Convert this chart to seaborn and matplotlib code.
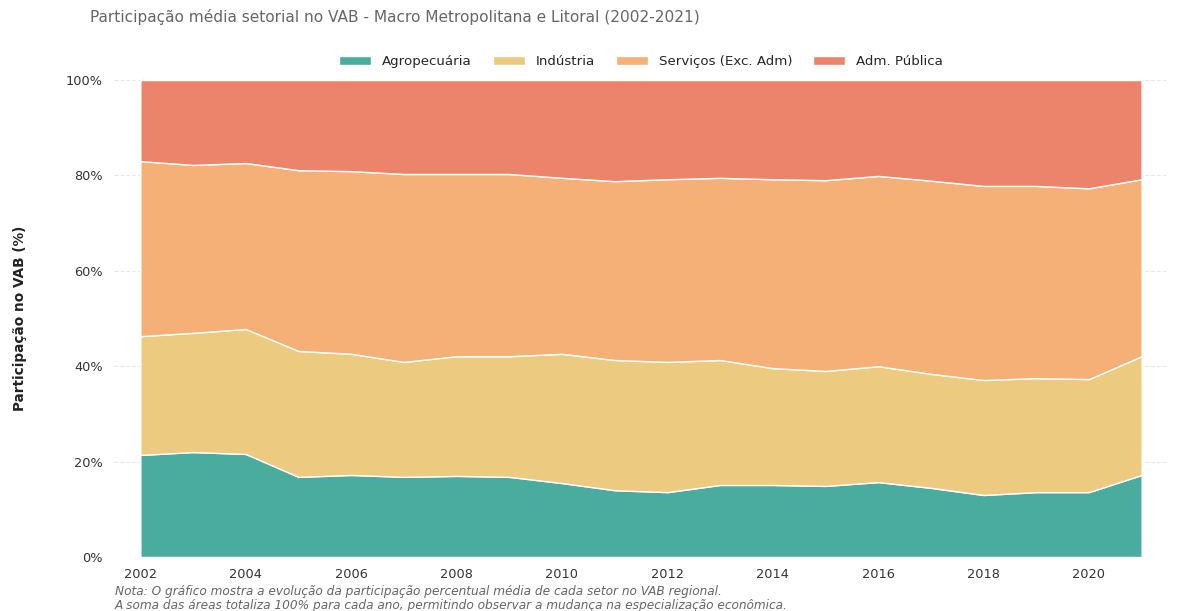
import numpy as np
import matplotlib
matplotlib.use("Agg")
import matplotlib.pyplot as plt
import seaborn as sns
from matplotlib.ticker import PercentFormatter

# Data (% share of VAB)
years = list(range(2002, 2022))
agro = [21.4, 22.0, 21.6, 16.8, 17.2, 16.8, 17.0, 16.8, 15.5, 14.0,
        13.6, 15.1, 15.1, 14.9, 15.7, 14.5, 13.0, 13.6, 13.6, 17.2]
industria = [24.9, 25.0, 26.2, 26.4, 25.4, 24.1, 25.1, 25.3, 27.1, 27.3,
             27.3, 26.2, 24.5, 24.1, 24.3, 23.9, 24.1, 23.9, 23.7, 24.9]
servicos = [36.7, 35.2, 34.8, 37.9, 38.3, 39.4, 38.2, 38.2, 36.9, 37.5,
            38.3, 38.2, 39.6, 40.0, 39.9, 40.5, 40.7, 40.3, 40.0, 37.1]
adm = [round(100 - a - i - s, 1) for a, i, s in zip(agro, industria, servicos)]

labels = ["Agropecuária", "Indústria", "Serviços (Exc. Adm)", "Adm. Pública"]
colors = ["#4aab9f", "#ecca80", "#f4b077", "#ec846c"]

sns.set_theme(style="white")
plt.rcParams['font.family'] = ['DejaVu Sans']

fig = plt.figure(figsize=(11.9, 6.11), dpi=100)
ax = fig.add_axes([0.0958, 0.0884, 0.8857, 0.7806])

ax.stackplot(years, agro, industria, servicos, adm, labels=labels,
             colors=sns.color_palette(colors), edgecolor="white", linewidth=1.0)

ax.set_xlim(2001.5, 2021.5)
ax.set_ylim(0, 100)
ax.set_xticks(range(2002, 2022, 2))
ax.set_yticks(range(0, 101, 20))
ax.yaxis.set_major_formatter(PercentFormatter(decimals=0))
ax.tick_params(axis="both", labelsize=9.3, colors="#333333", length=0, pad=8)
ax.grid(axis="y", linestyle="--", color="#e8e8e8", linewidth=0.8)
ax.set_axisbelow(True)
sns.despine(ax=ax, left=True, bottom=True)

ax.set_ylabel("Participação no VAB (%)", fontsize=9.8, fontweight="bold", color="#222222", labelpad=28)

ax.legend(loc="lower center", bbox_to_anchor=(0.5, 1.0), ncol=4, frameon=False,
          fontsize=9.6, handlelength=2.4, handleheight=0.7, columnspacing=1.6, handletextpad=0.8)

fig.text(0.0756, 0.972, "Participação média setorial no VAB - Macro Metropolitana e Litoral (2002-2021)",
         fontsize=11.1, color="#666666", va="center")
fig.text(0.0966, 0.032, "Nota: O gráfico mostra a evolução da participação percentual média de cada setor no VAB regional.",
         fontsize=8.7, color="#666666", style="italic", va="center")
fig.text(0.0966, 0.009, "A soma das áreas totaliza 100% para cada ano, permitindo observar a mudança na especialização econômica.",
         fontsize=8.7, color="#666666", style="italic", va="center")

fig.savefig("out.png", dpi=100)
